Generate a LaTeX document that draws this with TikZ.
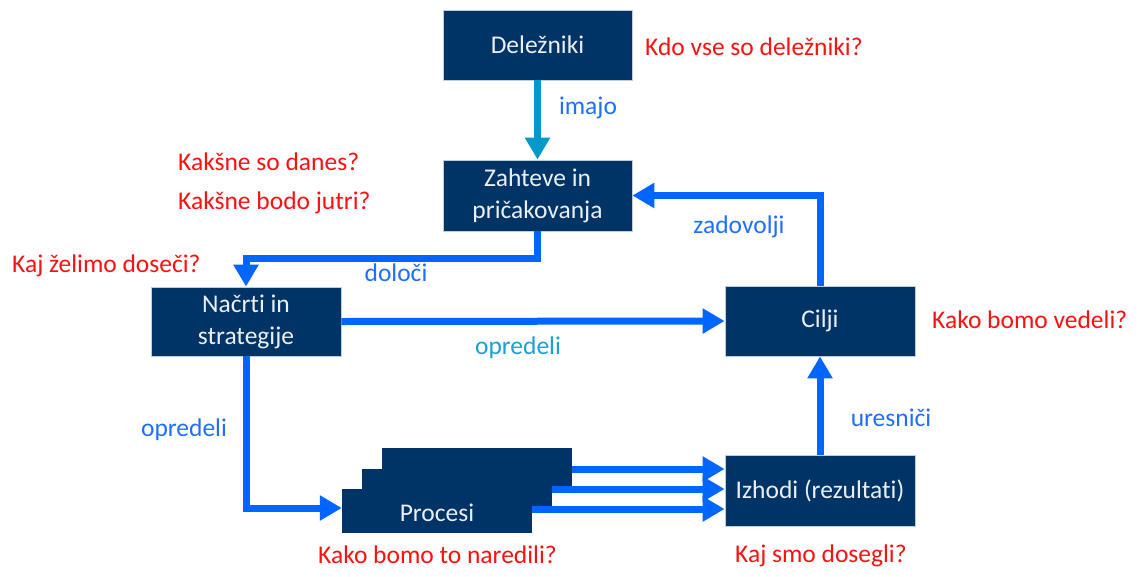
\documentclass[tikz,border=0pt]{standalone}
\usepackage{fontspec}
\setmainfont{Carlito}[Ligatures={NoCommon}]
\usetikzlibrary{arrows.meta,calc}
\definecolor{navy}{HTML}{003366}
\definecolor{arrblue}{HTML}{0066FF}
\definecolor{teal}{HTML}{0099CC}
\definecolor{lblue}{HTML}{1F6FFF}
\definecolor{lteal}{HTML}{1AA0D8}
\definecolor{qred}{HTML}{FF1010}
\tikzset{
  box/.style={rectangle, fill=navy, draw=white!75!navy, line width=0.8pt, text=white!92!navy, inner sep=0pt, align=center, font=\fontsize{25.5}{32}\selectfont},
  pbox/.style={rectangle, fill=navy, inner sep=0pt, minimum width=190pt},
  arr/.style={line width=7pt, draw=arrblue, -{Triangle[length=22pt,width=24pt]}},
  lbl/.style={text=lblue, font=\fontsize{25.5}{30}\selectfont, inner sep=0pt},
  q/.style={text=qred, font=\fontsize{25.5}{30}\selectfont, inner sep=0pt, anchor=west},
}
\begin{document}
\begin{tikzpicture}[x=1pt,y=-1pt]
\useasboundingbox (0,0) rectangle (1141,576);
% boxes
\node[box, minimum width=189pt, minimum height=70pt] (del) at (537.5,45) {Deležniki};
\node[box, minimum width=189pt, minimum height=71pt] (zah) at (537.5,195.5) {Zahteve in\\pričakovanja};
\node[box, minimum width=190pt, minimum height=69pt] (nac) at (246,321.5) {Načrti in\\strategije};
\node[box, minimum width=190pt, minimum height=70pt] (cil) at (820,321) {Cilji};
\node[box, minimum width=190pt, minimum height=71pt] (izh) at (820,490.5) {Izhodi (rezultati)};
\node[pbox, minimum height=38pt] (p1) at (477,467) {};
\node[pbox, minimum height=37pt] (p2) at (457,487.5) {};
\node[pbox, minimum height=44pt] (p3) at (437,511) {};
\node[text=white!92!navy, font=\fontsize{25.5}{30}\selectfont] (ptxt) at (437,513) {Procesi};
% connectors
\draw[arr, draw=teal] (del.south) -- (zah.north);
\draw[arr] (zah.south) -- ++(0,27) -| (nac.north);
\draw[arr] (nac.east) -- (cil.west);
\draw[arr] (cil.north) |- (zah.east);
\draw[arr] (izh.north) -- (cil.south);
\draw[arr] (nac.south) |- ([yshift=3pt]p3.west);
\draw[arr] ([yshift=-2pt]p1.east) -- ([yshift=21.5pt]izh.west);
\draw[arr] ([yshift=-1.5pt]p2.east) -- ([yshift=1.5pt]izh.west);
\draw[arr] ([yshift=2pt]p3.east) -- ([yshift=-18.5pt]izh.west);
% connector labels
\node[lbl] (limajo) at (588,108) {imajo};
\node[lbl] (ldoloci) at (396,273) {določi};
\node[lbl] (lzad) at (739,227) {zadovolji};
\node[lbl, text=lteal] (lopr1) at (518,348) {opredeli};
\node[lbl] (lures) at (891,418) {uresniči};
\node[lbl] (lopr2) at (184,430) {opredeli};
% questions
\node[q] (q1) at (645,47) {Kdo vse so deležniki?};
\node[q] (q2) at (178,162) {Kakšne so danes?};
\node[q] (q3) at (178,203) {Kakšne bodo jutri?};
\node[q] (q4) at (12,266) {Kaj želimo doseči?};
\node[q] (q5) at (932,320) {Kako bomo vedeli?};
\node[q] (q6) at (318,555) {Kako bomo to naredili?};
\node[q] (q7) at (735,556) {Kaj smo dosegli?};
\end{tikzpicture}
\end{document}
